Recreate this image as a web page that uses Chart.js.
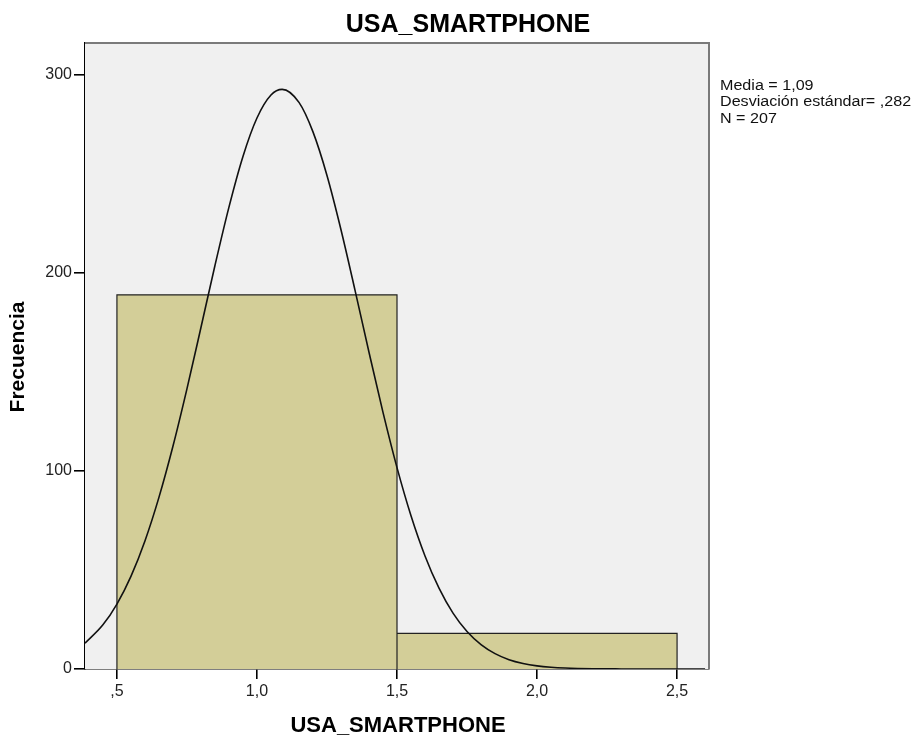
<!DOCTYPE html>
<html>
<head>
<meta charset="utf-8">
<script src="https://cdn.jsdelivr.net/npm/chart.js@4.4.1/dist/chart.umd.min.js"></script>
<style>
  html, body { margin: 0; padding: 0; background: #fff; }
  canvas { display: block; }
</style>
</head>
<body>
<canvas id="histo" width="921" height="740"></canvas>
<script>
// histogram bins (bin edges and counts)
const binEdges = [0.5, 1.5, 2.5];
const binCounts = [189, 18];

// normal curve
const curveX = [0.386, 0.45, 0.5, 0.55, 0.6, 0.65, 0.7, 0.75, 0.8, 0.85, 0.9, 0.95, 1.0, 1.05, 1.09,
  1.15, 1.2, 1.25, 1.3, 1.35, 1.4, 1.45, 1.5, 1.55, 1.6, 1.65, 1.7, 1.75, 1.8, 1.85, 1.9, 1.95,
  2.0, 2.05, 2.1, 2.2, 2.3, 2.45, 2.6];
const curveY = [13, 22.3, 32.8, 46.8, 64.7, 86.7, 112.5, 141.5, 172.5, 203.8, 233.3, 258.9, 278.3, 289.9, 292.8,
  286.2, 271.3, 249.3, 221.9, 191.4, 160, 129.6, 101.7, 77.4, 57.1, 40.8, 28.2, 18.9, 12.3, 7.75, 4.7, 2.8,
  1.6, 0.9, 0.5, 0.13, 0.03, 0, 0];

const xTicks = [0.5, 1.0, 1.5, 2.0, 2.5];
const yTicks = [0, 100, 200, 300];

const statsLines = ['Media = 1,09', 'Desviación estándar= ,282', 'N = 207'];
const chartTitle = 'USA_SMARTPHONE';
const xTitle = 'USA_SMARTPHONE';
const yTitle = 'Frecuencia';

const FONT = 'Arial, "Liberation Sans", sans-serif';

// outline of the bars, built from the bins
const barOutline = [];
binCounts.forEach((c, i) => {
  barOutline.push({ x: binEdges[i], y: 0 }, { x: binEdges[i], y: c }, { x: binEdges[i + 1], y: c }, { x: binEdges[i + 1], y: 0 });
});

const spssFrame = {
  id: 'spssFrame',
  beforeDatasetsDraw(chart) {
    const { ctx, chartArea: a } = chart;
    ctx.save();
    ctx.fillStyle = '#f0f0f0';
    ctx.fillRect(a.left, a.top, a.right - a.left, a.bottom - a.top);
    ctx.restore();
  },
  afterDraw(chart) {
    const { ctx, chartArea: a } = chart;
    ctx.save();
    ctx.strokeStyle = '#7a7a7a';
    ctx.lineWidth = 2;
    ctx.beginPath();
    ctx.moveTo(a.left, a.top);
    ctx.lineTo(a.right, a.top);
    ctx.lineTo(a.right, a.bottom);
    ctx.stroke();

    ctx.fillStyle = '#000';
    ctx.textAlign = 'center';
    ctx.textBaseline = 'middle';
    ctx.font = 'bold 25px ' + FONT;
    ctx.fillText(chartTitle, 468, 25);
    ctx.font = 'bold 22px ' + FONT;
    ctx.fillText(xTitle, 398, 726);
    ctx.save();
    ctx.translate(18, 357);
    ctx.rotate(-Math.PI / 2);
    ctx.font = 'bold 21px ' + FONT;
    ctx.fillText(yTitle, 0, 0);
    ctx.restore();

    // stats box text, slightly wide like the original
    ctx.textAlign = 'left';
    ctx.font = '14px ' + FONT;
    ctx.fillStyle = '#111';
    statsLines.forEach((s, i) => {
      ctx.save();
      ctx.translate(720, 86 + i * 16.5);
      ctx.scale(1.15, 1);
      ctx.fillText(s, 0, 0);
      ctx.restore();
    });
    ctx.restore();
  }
};

new Chart(document.getElementById('histo'), {
  type: 'line',
  data: {
    datasets: [
      {
        data: barOutline,
        borderColor: '#222',
        borderWidth: 1.2,
        backgroundColor: '#d3ce98',
        fill: 'origin',
        pointRadius: 0,
        tension: 0,
        order: 2
      },
      {
        data: curveX.map((x, i) => ({ x, y: curveY[i] })),
        borderColor: '#111',
        borderWidth: 1.6,
        fill: false,
        pointRadius: 0,
        cubicInterpolationMode: 'monotone',
        order: 1
      }
    ]
  },
  options: {
    responsive: false,
    animation: false,
    layout: { padding: { left: 0, top: 43, right: 212, bottom: 0 } },
    plugins: { legend: { display: false }, tooltip: { enabled: false } },
    scales: {
      x: {
        type: 'linear',
        min: 0.386,
        max: 2.614,
        afterBuildTicks: s => { s.ticks = xTicks.map(v => ({ value: v })); },
        afterFit: s => { s.height = 71; },
        grid: { drawOnChartArea: false, drawTicks: true, tickLength: 10, color: '#000', lineWidth: 1.6 },
        border: { color: '#000', width: 1.6 },
        ticks: {
          padding: 3,
          color: '#222',
          font: { family: FONT, size: 16 },
          maxRotation: 0,
          callback: v => v.toFixed(1).replace('.', ',').replace(/^0/, '')
        }
      },
      y: {
        min: 0,
        max: 316.2,
        afterBuildTicks: s => { s.ticks = yTicks.map(v => ({ value: v })); },
        afterFit: s => { s.width = 85; },
        grid: { drawOnChartArea: false, drawTicks: true, tickLength: 11, color: '#000', lineWidth: 1.6 },
        border: { color: '#000', width: 1.6 },
        ticks: {
          padding: 2,
          color: '#222',
          font: { family: FONT, size: 16 }
        }
      }
    }
  },
  plugins: [spssFrame]
});
</script>
</body>
</html>
